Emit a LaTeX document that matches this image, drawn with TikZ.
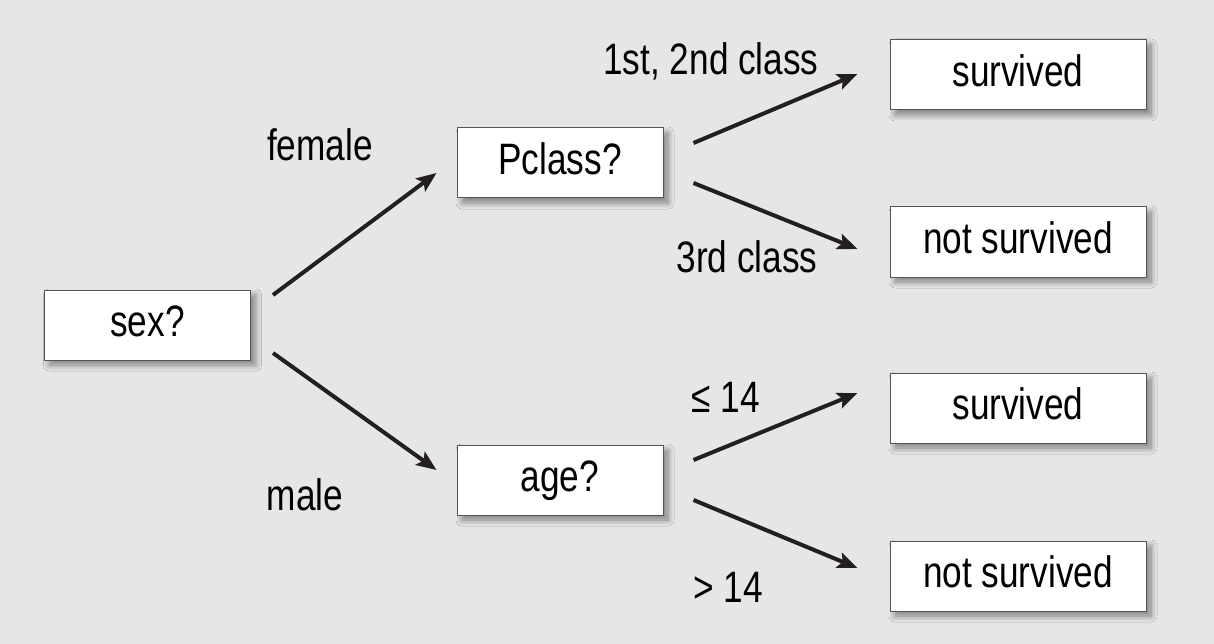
\documentclass[tikz,border=0pt]{standalone}
\usepackage{fontspec}
\setmainfont{Liberation Sans}[FakeStretch=0.8]
\usetikzlibrary{arrows.meta,shadows.blur,calc}
\definecolor{bg}{HTML}{E6E6E6}
\definecolor{boxline}{HTML}{555555}
\definecolor{arrowc}{HTML}{231F20}
\begin{document}
\begin{tikzpicture}[x=1pt,y=-1pt,
  bigfont/.style={font=\fontsize{44}{50}\selectfont},
  box/.style={draw=boxline, line width=1pt, fill=white, inner sep=0pt,
    minimum height=70pt, text height=32pt, text depth=8.6pt, bigfont,
    blur shadow={shadow xshift=5pt, shadow yshift=-5pt, shadow blur steps=12, shadow blur radius=6pt, shadow opacity=45}},
  inner/.style={box, minimum width=206pt},
  leaf/.style={box, minimum width=256pt},
  lbl/.style={bigfont, anchor=base, inner sep=0pt, text=black},
  arr/.style={line width=4pt, draw=arrowc, -{Stealth[length=20pt,width=16pt,inset=4pt]}}]
\fill[bg] (0,0) rectangle (1214,644);
\useasboundingbox (0,0) rectangle (1214,644);

\node[inner] (sex) at (147.5,325) {sex?};
\node[inner] (pclass) at (560,163) {Pclass?};
\node[inner] (age) at (560,480) {age?};
\node[leaf] (s1) at (1018,75) {survived};
\node[leaf] (n1) at (1018,242) {not survived};
\node[leaf] (s2) at (1018,408) {survived};
\node[leaf] (n2) at (1018,576) {not survived};

\draw[arr] ($(sex.east)+(22,-30)$) -- ($(pclass.west)+(-20,10)$);
\draw[arr] ($(sex.east)+(22,28)$) -- ($(age.west)+(-20,-10)$);
\draw[arr] ($(pclass.east)+(30,-20)$) -- ($(s1.west)+(-32,-1)$);
\draw[arr] ($(pclass.east)+(30,20)$) -- ($(n1.west)+(-32,7)$);
\draw[arr] ($(age.east)+(30,-20)$) -- ($(s2.west)+(-32,-15)$);
\draw[arr] ($(age.east)+(30,20)$) -- ($(n2.west)+(-32,-8)$);

\node[lbl] (lf) at (320,161) {female};
\node[lbl] (lm) at (305,510) {male};
\node[lbl] (l12) at (711,75) {1st, 2nd class};
\node[lbl] (l3) at (747,272) {3rd class};
\node[lbl] (lle) at (726,412) {≤ 14};
\node[lbl] (lgt) at (728,602) {> 14};
\end{tikzpicture}
\end{document}
